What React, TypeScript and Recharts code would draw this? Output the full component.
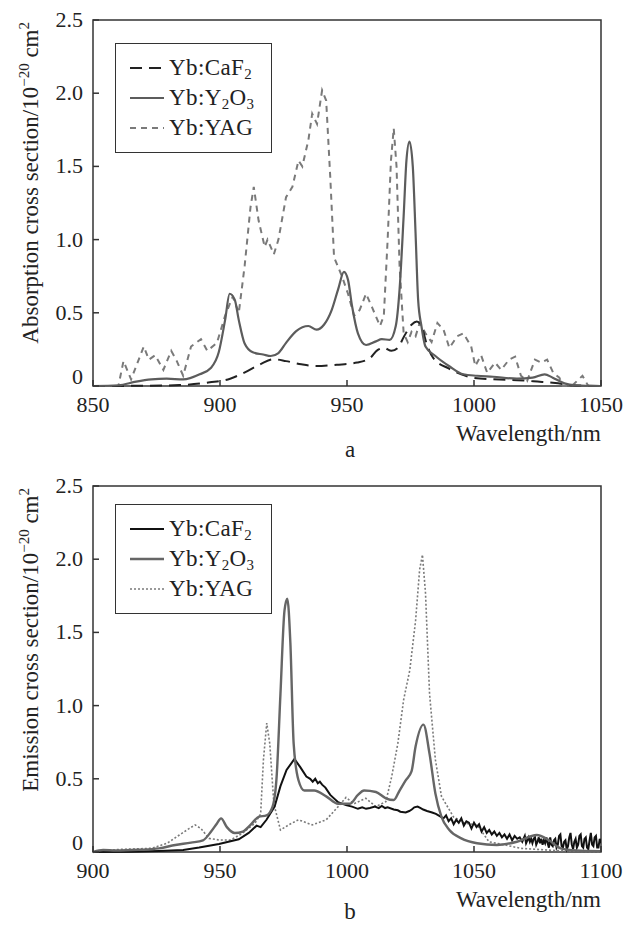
import React from 'react';
import { LineChart, Line, XAxis, YAxis, ReferenceArea, Label } from 'recharts';

const FONT = '"Liberation Serif", "DejaVu Serif", "Times New Roman", serif';

type Pt = [number, number];

// wavelength (nm), cross section (1e-20 cm^2)
const absTicks = [850, 900, 950, 1000, 1050];
const emTicks = [900, 950, 1000, 1050, 1100];
const yTicks = [0, 0.5, 1.0, 1.5, 2.0, 2.5];

const caf2Abs: Pt[] = [
  [850, 0], [870, 0.002], [884, 0.006], [896, 0.025], [904, 0.05], [910, 0.095], [916, 0.15],
  [921, 0.183], [926, 0.17], [932, 0.148], [938, 0.136], [946, 0.145], [954, 0.16], [959, 0.19],
  [962, 0.245], [964.5, 0.26], [967.5, 0.24], [970, 0.26], [972.5, 0.34], [975.5, 0.42], [977.5, 0.44],
  [979.5, 0.4], [981.5, 0.28], [984, 0.19], [990, 0.12], [995, 0.08], [1000, 0.055], [1010, 0.045],
  [1017, 0.04], [1025, 0.03], [1032, 0.02], [1039, 0.005], [1050, 0],
];

const y2o3Abs: Pt[] = [
  [850, 0], [860, 0.005], [867, 0.03], [873, 0.045], [879, 0.05], [885.5, 0.045], [892, 0.08],
  [896.5, 0.125], [899.5, 0.23], [902, 0.45], [903.8, 0.63], [905.8, 0.59], [907.4, 0.45], [909.7, 0.29],
  [912.9, 0.23], [917, 0.215], [920, 0.205], [923, 0.225], [926, 0.295], [930, 0.375], [934.8, 0.41],
  [938, 0.385], [941, 0.42], [944, 0.52], [946.5, 0.66], [948.8, 0.78], [950.4, 0.725], [952, 0.545],
  [954.3, 0.36], [957.5, 0.28], [961.4, 0.305], [963.7, 0.32], [966.8, 0.315], [969.2, 0.41], [970.7, 0.66],
  [972.3, 1.16], [973.4, 1.54], [974.6, 1.67], [975.9, 1.5], [977, 1.04], [978, 0.59], [979.3, 0.41],
  [980.9, 0.27], [984.8, 0.205], [990.3, 0.135], [995.8, 0.08], [1001.2, 0.07], [1007.5, 0.063],
  [1016.9, 0.05], [1023.1, 0.057], [1027.8, 0.08], [1031, 0.057], [1035.6, 0.018], [1040, 0.005], [1050, 0],
];

const yagAbs: Pt[] = [
  [850, 0], [860, 0], [862, 0.17], [865, 0.045], [870, 0.27], [872, 0.18], [874.5, 0.21], [877.7, 0.11],
  [880.8, 0.24], [883, 0.17], [885.5, 0.07], [888.6, 0.27], [892.5, 0.32], [895, 0.24], [898.8, 0.295],
  [902, 0.48], [905, 0.61], [907.4, 0.5], [909.7, 0.82], [912, 1.22], [913.3, 1.36], [915.2, 1.13],
  [917.6, 0.95], [918.7, 1.0], [921.2, 0.9], [923, 1.0], [926, 1.29], [928.5, 1.36], [930.9, 1.54],
  [932.4, 1.5], [934.8, 1.68], [936.3, 1.86], [938.2, 1.79], [940.2, 2.02], [941.8, 1.95], [943.4, 1.43],
  [944.9, 0.88], [948, 0.75], [950.4, 0.63], [952.8, 0.48], [955, 0.52], [957.5, 0.63], [959.8, 0.54],
  [963, 0.41], [964.5, 0.48], [966, 1.0], [967.3, 1.54], [968.4, 1.76], [969.5, 1.5], [970.7, 0.82],
  [972.3, 0.36], [973.9, 0.3], [975.4, 0.37], [977, 0.34], [978.6, 0.43], [980.9, 0.36], [983.3, 0.3],
  [985.6, 0.43], [988, 0.385], [990.3, 0.26], [993.4, 0.34], [995.8, 0.36], [998.9, 0.27], [1000.5, 0.136],
  [1002.8, 0.21], [1005.2, 0.09], [1008.3, 0.16], [1010.7, 0.11], [1013.8, 0.18], [1016.2, 0.2],
  [1018.5, 0.07], [1020.9, 0.034], [1024, 0.18], [1026.4, 0.16], [1028.8, 0.18], [1031.2, 0.09],
  [1033.6, 0.057], [1035, 0], [1038.8, 0.005], [1042.7, 0.07], [1045, 0], [1050, 0],
];

const caf2Em: Pt[] = [
  [900, 0], [915, 0.002], [926, 0.007], [935.5, 0.014], [941.8, 0.03], [949.6, 0.055], [957.4, 0.087],
  [961.3, 0.13], [964.4, 0.18], [966, 0.17], [968.3, 0.22], [971.5, 0.31], [973.8, 0.45], [976.2, 0.56],
  [979.3, 0.635], [981.6, 0.58], [984, 0.515], [985.5, 0.5], [986.5, 0.48], [987.5, 0.5], [988.5, 0.47],
  [989.3, 0.48], [990.2, 0.46], [991.5, 0.44], [993.4, 0.39], [996.5, 0.34], [999.6, 0.32], [1002, 0.31],
  [1004.3, 0.295], [1006, 0.305], [1007.5, 0.295], [1009, 0.3], [1011, 0.31], [1012.5, 0.3], [1013.7, 0.315],
  [1015, 0.3], [1016, 0.305], [1018.4, 0.29], [1020, 0.285], [1021, 0.275], [1023.1, 0.27], [1024.5, 0.28],
  [1025.5, 0.29], [1026.5, 0.305], [1027.8, 0.31], [1029, 0.3], [1030, 0.29], [1031.5, 0.28], [1032.5, 0.275],
  [1033.5, 0.27], [1035, 0.26], [1036, 0.25], [1037, 0.24], [1038, 0.23], [1039, 0.25], [1040, 0.21],
  [1041, 0.23], [1042, 0.19], [1043, 0.22], [1044, 0.2], [1045, 0.23], [1046, 0.18], [1047, 0.21],
  [1048, 0.2], [1049, 0.16], [1050, 0.2], [1051, 0.17], [1052, 0.19], [1053, 0.14], [1054, 0.17],
  [1055, 0.13], [1056, 0.15], [1057, 0.12], [1058, 0.14], [1059, 0.11], [1060, 0.13], [1061, 0.1],
  [1062, 0.12], [1063, 0.09], [1064, 0.12], [1065, 0.08], [1066, 0.11], [1067, 0.09], [1068, 0.1],
  [1069, 0.07], [1070, 0.11], [1070.5, 0.06], [1071, 0.08], [1071.5, 0.1], [1072, 0.07], [1072.5, 0.09],
  [1073, 0.06], [1073.5, 0.09], [1074, 0.1], [1074.5, 0.05], [1075, 0.07], [1075.5, 0.1], [1076, 0.06],
  [1076.5, 0.09], [1077, 0.05], [1077.5, 0.08], [1078, 0.06], [1078.5, 0.1], [1079, 0.06], [1079.5, 0.03],
  [1080, 0.1], [1080.5, 0.05], [1081, 0.04], [1081.5, 0.08], [1082, 0.09], [1082.5, 0.03], [1083, 0.05],
  [1083.5, 0.11], [1084, 0.12], [1084.5, 0.04], [1085, 0.03], [1085.5, 0.07], [1086, 0.08], [1086.5, 0.02],
  [1087, 0.04], [1087.5, 0.1], [1088, 0.13], [1088.5, 0.05], [1089, 0.02], [1089.5, 0.07], [1090, 0.09],
  [1090.5, 0.03], [1091, 0.05], [1091.5, 0.11], [1092, 0.12], [1092.5, 0.04], [1093, 0.03], [1093.5, 0.09],
  [1094, 0.1], [1094.5, 0.03], [1095, 0.02], [1095.5, 0.08], [1096, 0.13], [1096.5, 0.05], [1097, 0.04],
  [1097.5, 0.1], [1098, 0.11], [1098.5, 0.03], [1099, 0.03], [1099.5, 0.09], [1100, 0.06],
];

const y2o3Em: Pt[] = [
  [900, 0], [904, 0.014], [909, 0.01], [918, 0.015], [926, 0.025], [932.4, 0.048], [938.6, 0.064],
  [943.3, 0.08], [946.5, 0.14], [948.8, 0.195], [950.4, 0.23], [952.7, 0.17], [955.8, 0.13], [959, 0.14],
  [962, 0.185], [965.2, 0.24], [968.3, 0.25], [970.7, 0.31], [972.3, 0.515], [973.8, 1.08], [975.4, 1.65],
  [976.5, 1.73], [977.7, 1.43], [979, 0.74], [980.9, 0.49], [983.2, 0.42], [987.1, 0.42], [991.8, 0.38],
  [996.5, 0.33], [1001.2, 0.33], [1004.3, 0.39], [1006.7, 0.42], [1011.4, 0.41], [1015.3, 0.367],
  [1018.4, 0.355], [1020.7, 0.42], [1023.1, 0.49], [1025.4, 0.55], [1027, 0.72], [1030.1, 0.87],
  [1032.5, 0.67], [1034.8, 0.4], [1037.2, 0.24], [1040.3, 0.15], [1045, 0.093], [1051.2, 0.06],
  [1059, 0.048], [1066.9, 0.07], [1074.7, 0.116], [1079.4, 0.082], [1084.1, 0.025], [1090.3, 0.01], [1100, 0.005],
];

const yagEm: Pt[] = [
  [900, 0], [910.5, 0.018], [923, 0.025], [929.2, 0.06], [934, 0.116], [937.8, 0.16], [940.2, 0.185],
  [942.5, 0.16], [945.7, 0.093], [949.6, 0.082], [954.3, 0.082], [959, 0.13], [963.7, 0.195], [966, 0.26],
  [967.1, 0.63], [968.4, 0.88], [969.6, 0.74], [971.2, 0.33], [973.8, 0.15], [977, 0.185], [980.9, 0.22],
  [986.3, 0.185], [991.8, 0.22], [996.5, 0.31], [999.6, 0.373], [1002.8, 0.33], [1007.4, 0.367],
  [1011.4, 0.31], [1015.3, 0.344], [1017.6, 0.515], [1020, 0.74], [1022.3, 1.04], [1024.7, 1.24],
  [1027, 1.58], [1028.6, 1.93], [1029.7, 2.03], [1030.9, 1.77], [1032.5, 1.08], [1034.8, 0.63],
  [1037.2, 0.38], [1041.9, 0.24], [1046.5, 0.196], [1051.2, 0.185], [1055.9, 0.07], [1062.2, 0.048],
  [1068.4, 0.025], [1082.5, 0.01], [1100, 0],
];

const rows = (pts: Pt[]) => pts.map(([x, v]) => ({ x, v }));

const subStyle = { fontSize: '0.65em', verticalAlign: '-0.25em', lineHeight: 0 };
const CaF2 = <>CaF<sub style={subStyle}>2</sub></>;
const Y2O3 = <>Y<sub style={subStyle}>2</sub>O<sub style={subStyle}>3</sub></>;

function XTick(props: any) {
  const { x, y, payload } = props;
  return (
    <g>
      <line x1={x} y1={y} x2={x} y2={y - 6} stroke="#333" strokeWidth={1.5} />
      <text x={x} y={y + 26} textAnchor="middle" fontFamily={FONT} fontSize={22} fill="#222">
        {payload.value}
      </text>
    </g>
  );
}

function YTick(props: any) {
  const { x, y, payload } = props;
  const v = payload.value;
  return (
    <g>
      <line x1={x} y1={y} x2={x + 6} y2={y} stroke="#333" strokeWidth={1.5} />
      <text x={x - 10} y={y} dy={v === 0 ? -2 : 7} textAnchor="end" fontFamily={FONT} fontSize={22} fill="#222">
        {v === 0 ? '0' : v.toFixed(1)}
      </text>
    </g>
  );
}

function XTitle({ viewBox, caption, capOffset }: any) {
  const vb = viewBox || { x: 93, y: 386, width: 508 };
  return (
    <g fontFamily={FONT} fill="#222">
      <text x={vb.x + vb.width} y={vb.y + 55} textAnchor="end" fontSize={23}>Wavelength/nm</text>
      <text x={vb.x + vb.width / 2 + 3} y={vb.y + capOffset} textAnchor="middle" fontSize={23}>{caption}</text>
    </g>
  );
}

function YTitle({ viewBox, text }: any) {
  const vb = viewBox || { y: 20 };
  return (
    <text
      transform={`translate(38,${vb.y + 2}) rotate(-90)`}
      textAnchor="end"
      fontFamily={FONT}
      fontSize={23}
      fill="#222"
    >
      {text}/10<tspan dy={-9} fontSize={15}>−20</tspan>
      <tspan dy={9}> cm</tspan>
      <tspan dy={-9} fontSize={15}>2</tspan>
    </text>
  );
}

function LegendBox({ top, items }: { top: number; items: { label: React.ReactNode; color: string; dash?: string; width: number }[] }) {
  return (
    <div
      style={{
        position: 'absolute', left: 115, top, width: 157, height: 110, boxSizing: 'border-box',
        border: '1.5px solid #333', background: '#fff', padding: '9px 0 0 14px',
        fontFamily: FONT, fontSize: 23, color: '#222',
      }}
    >
      {items.map((it, i) => (
        <div key={i} style={{ display: 'flex', alignItems: 'center', height: 30 }}>
          <svg width={34} height={10} style={{ display: 'block' }}>
            <line x1={0} y1={5} x2={34} y2={5} stroke={it.color} strokeWidth={it.width} strokeDasharray={it.dash} />
          </svg>
          <span style={{ marginLeft: 5, lineHeight: '30px', whiteSpace: 'nowrap', letterSpacing: 0.4 }}>Yb:{it.label}</span>
        </div>
      ))}
    </div>
  );
}

const absStyles = {
  caf2: { color: '#222', dash: '12 7', width: 2 },
  y2o3: { color: '#5c5c5c', dash: undefined, width: 2.2 },
  yag: { color: '#7a7a7a', dash: '6 5', width: 2 },
};
const emStyles = {
  caf2: { color: '#111', dash: undefined, width: 2 },
  y2o3: { color: '#666', dash: undefined, width: 2.4 },
  yag: { color: '#7a7a7a', dash: '2 2', width: 1.6 },
};

function Panel({ top, height, margin, capOffset, legendTop, ticks, domain, series, styles, yLabel, caption }: any) {
  return (
    <div style={{ position: 'absolute', left: 0, top, width: 623, height }}>
      <LineChart width={623} height={height} margin={margin}>
        <ReferenceArea x1={domain[0]} x2={domain[1]} y1={0} y2={2.5} fill="none" stroke="#333" strokeWidth={1.5} ifOverflow="visible" />
        <XAxis
          type="number" dataKey="x" domain={domain} ticks={ticks} allowDataOverflow height={30}
          axisLine={false} tickLine={false} tickSize={0} tickMargin={0} tick={<XTick />}
        >
          <Label content={(p: any) => <XTitle viewBox={p.viewBox} caption={caption} capOffset={capOffset} />} />
        </XAxis>
        <YAxis
          type="number" domain={[0, 2.5]} ticks={yTicks} width={93}
          axisLine={false} tickLine={false} tickSize={0} tickMargin={0} tick={<YTick />}
        >
          <Label content={(p: any) => <YTitle viewBox={p.viewBox} text={yLabel} />} />
        </YAxis>
        <Line data={rows(series.yag)} dataKey="v" type="linear" stroke={styles.yag.color} strokeWidth={styles.yag.width} strokeDasharray={styles.yag.dash} dot={false} isAnimationActive={false} />
        <Line data={rows(series.caf2)} dataKey="v" type={caption === 'a' ? 'monotone' : 'linear'} stroke={styles.caf2.color} strokeWidth={styles.caf2.width} strokeDasharray={styles.caf2.dash} dot={false} isAnimationActive={false} />
        <Line data={rows(series.y2o3)} dataKey="v" type="monotone" stroke={styles.y2o3.color} strokeWidth={styles.y2o3.width} dot={false} isAnimationActive={false} />
      </LineChart>
      <LegendBox
        top={legendTop}
        items={[
          { label: CaF2, ...styles.caf2 },
          { label: Y2O3, ...styles.y2o3 },
          { label: 'YAG', ...styles.yag },
        ]}
      />
    </div>
  );
}

export default function App() {
  return (
    <div style={{ position: 'absolute', left: 0, top: 0, width: 623, height: 927, background: '#fff' }}>
      <Panel
        top={0} height={474} margin={{ top: 20, right: 22, bottom: 58, left: 0 }} capOffset={71} legendTop={43}
        ticks={absTicks} domain={[850, 1050]}
        series={{ caf2: caf2Abs, y2o3: y2o3Abs, yag: yagAbs }} styles={absStyles}
        yLabel="Absorption cross section" caption="a"
      />
      <Panel
        top={460} height={467} margin={{ top: 26, right: 22, bottom: 45, left: 0 }} capOffset={67} legendTop={44}
        ticks={emTicks} domain={[900, 1100]}
        series={{ caf2: caf2Em, y2o3: y2o3Em, yag: yagEm }} styles={emStyles}
        yLabel="Emission cross section" caption="b"
      />
    </div>
  );
}
